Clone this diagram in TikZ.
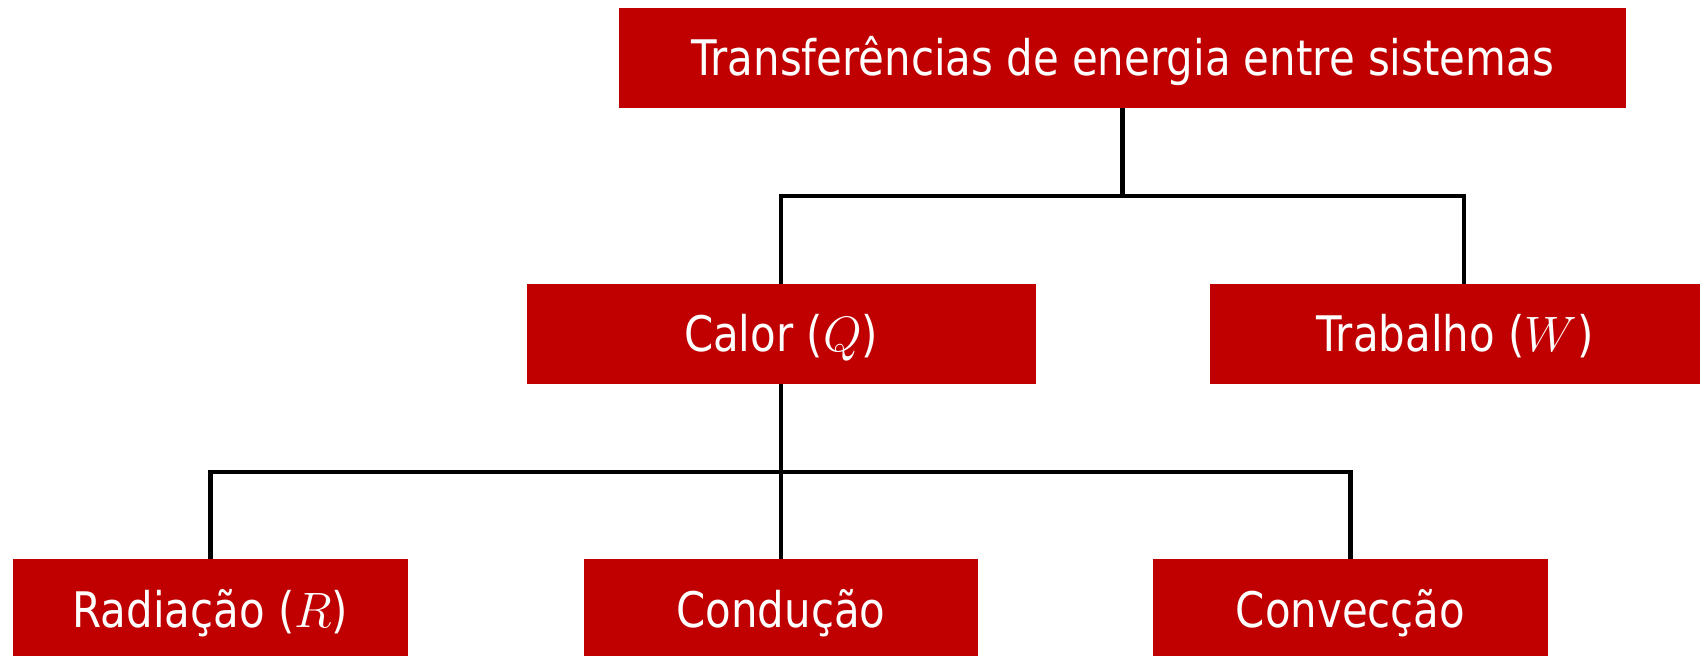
\documentclass[tikz,border=0pt]{standalone}
\usepackage{fontspec}
\setmainfont{DejaVu Sans}[FakeStretch=0.855]
\definecolor{boxred}{RGB}{192,0,0}
\begin{document}
\begin{tikzpicture}[x=0.5pt,y=-0.5pt,
  rbox/.style={fill=boxred, text=white, inner sep=0pt, minimum height=50pt,
    text height=18pt, text depth=0pt, font=\fontsize{24.5pt}{29pt}\selectfont},
  conn/.style={line width=2.3pt, draw=black}]
\useasboundingbox (0,0) rectangle (1701,656);
\clip (0,0) rectangle (1701,656);
\node[rbox, minimum width=503.5pt] (top) at (1122.5,58) {Transferências de energia entre sistemas};
\node[rbox, minimum width=254.5pt] (calor) at (781,334) {Calor ($Q$)};
\node[rbox, minimum width=245pt] (trab) at (1455,334) {Trabalho ($W$)};
\node[rbox, minimum width=197.5pt] (rad) at (210.5,609) {Radiação ($R$)};
\node[rbox, minimum width=197pt] (cond) at (781,609) {Condução};
\node[rbox, minimum width=197.5pt] (conv) at (1350.5,609) {Convecção};
\coordinate (j1) at (1122.5,196);
\coordinate (j1r) at (1464,196);
\coordinate (j2) at (781,472);
\draw[conn] (top.south) -- (j1);
\draw[conn] (calor.north) -- (calor.north |- j1) -- (j1r) -- (j1r |- trab.north);
\draw[conn] (calor.south) -- (cond.north);
\draw[conn] (rad.north) -- (rad.north |- j2) -- (conv.north |- j2) -- (conv.north);
\end{tikzpicture}
\end{document}
